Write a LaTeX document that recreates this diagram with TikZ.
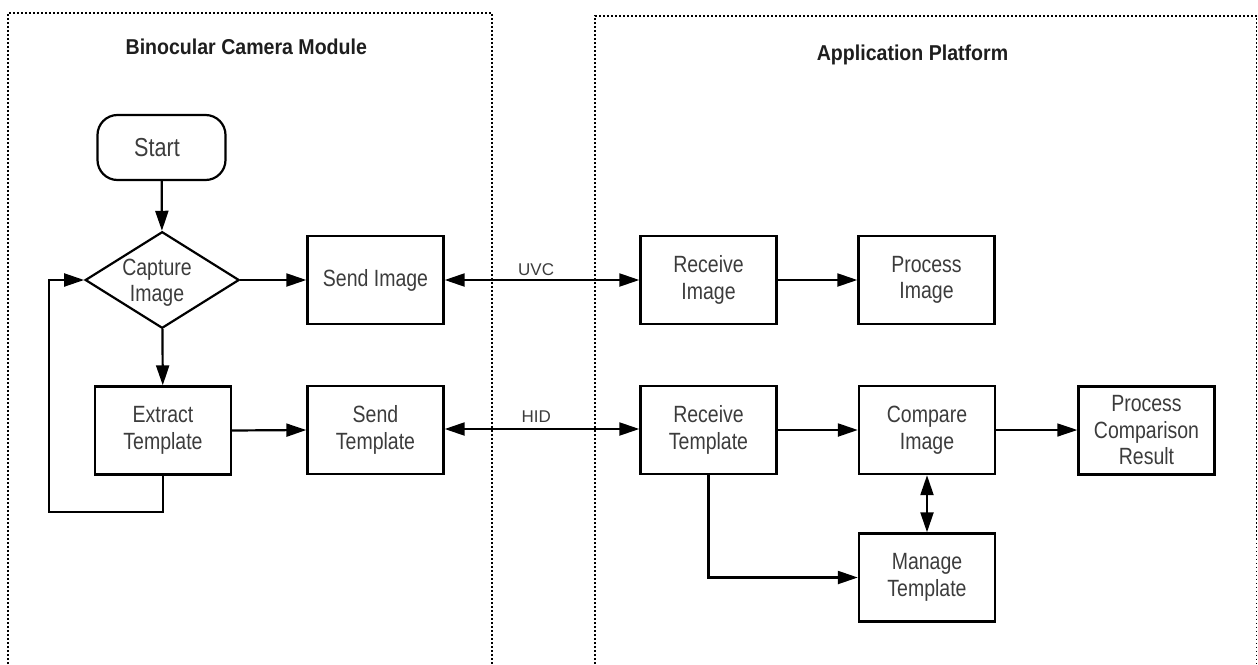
\documentclass[tikz,border=0pt]{standalone}
\usepackage{fontspec}
\setmainfont{Liberation Sans}[FakeStretch=0.83]
\newfontfamily\ttlfont{Liberation Sans}[FakeStretch=0.91]
\newfontfamily\lblfont{Liberation Sans}
\usetikzlibrary{arrows.meta,shapes.geometric}
\definecolor{txt}{RGB}{60,60,60}
\definecolor{ttl}{RGB}{30,30,30}
\begin{document}
\begin{tikzpicture}[x=1pt,y=-1pt,
  box/.style={draw=black,line width=2.4pt,minimum width=136pt,minimum height=88pt,inner sep=0pt,align=center,font=\fontsize{23.5}{26.5}\selectfont,text=txt},
  startbox/.style={draw=black,line width=2.2pt,rounded corners=20pt,minimum width=128pt,minimum height=65pt,inner sep=0pt,font=\fontsize{26}{28}\selectfont,text=txt},
  dia/.style={draw=black,line width=2.2pt,diamond,minimum width=154pt,minimum height=96.6pt,inner sep=0pt},
  plain/.style={inner sep=0pt,align=center,font=\fontsize{23.5}{26}\selectfont,text=txt},
  title/.style={inner sep=0pt,anchor=base,font=\ttlfont\fontsize{21.5}{26}\selectfont\bfseries,text=ttl},
  lbl/.style={inner sep=0pt,font=\lblfont\fontsize{17}{20}\selectfont,text=txt},
  frame/.style={line width=1.6pt,dash pattern=on 1.6pt off 2.4pt},
  conn/.style={line width=2.2pt,-{Triangle[length=20pt,width=13pt]}},
  dconn/.style={line width=2.2pt,{Triangle[length=20pt,width=13pt]}-{Triangle[length=20pt,width=13pt]}}
]
\useasboundingbox (0,0) rectangle (1258,664);
% frames
\coordinate (lf1) at (8,664);
\coordinate (lf2) at (8,13);
\coordinate (lf3) at (492,13);
\coordinate (lf4) at (492,664);
\draw[frame] (lf1) -- (lf2) -- (lf3) -- (lf4);
\coordinate (rf1) at (595,664);
\coordinate (rf2) at (595,16);
\coordinate (rf3) at (1256.5,16);
\coordinate (rf4) at (1256.5,664);
\draw[frame] (rf1) -- (rf2) -- (rf3) -- (rf4);
\node[title] (t1) at (246.3,54.3) {Binocular Camera Module};
\node[title] (t2) at (912.5,60.7) {Application Platform};
% left nodes
\node[startbox] (start) at (161.5,147.5) {Start\hspace*{9pt}};
\node[dia] (cap) at (162.2,280) {};
\node[plain] (captxt) at (157,283) {Capture\\Image};
\node[box] (sendimg) at (375.5,280) {Send Image};
\node[box] (extract) at (163,430.5) {Extract\\Template};
\node[box] (sendtpl) at (375.5,430) {Send\\Template};
% right nodes
\node[box] (recimg) at (708.5,280) {Receive\\Image};
\node[box] (procimg) at (926.5,280) {Process\\Image};
\node[box] (rectpl) at (708.5,430) {Receive\\Template};
\node[box] (cmp) at (927,430) {Compare\\Image};
\node[box] (pcr) at (1146.5,430.5) {Process\\Comparison\\Result};
\node[box] (mgr) at (927,577.5) {Manage\\Template};
% connectors
\draw[conn] (start) -- (cap);
\draw[conn] (cap) -- (extract);
\draw[conn] (cap.east) -- (sendimg.west);
\draw[conn] (extract.east) -- (sendtpl.west);
\coordinate (lp1) at (163,512);
\coordinate (lp2) at (49,512);
\coordinate (lp3) at (49,280);
\draw[conn] (extract.south) -- (lp1) -- (lp2) -- (lp3) -- (cap.west);
\draw[dconn] (sendimg.east) -- node[lbl,above=3pt,pos=0.47] (uvc) {UVC} (recimg.west);
\draw[dconn] (sendtpl.east |- 0,429) -- node[lbl,above=5pt,pos=0.47] (hid) {HID} (rectpl.west |- 0,429);
\draw[conn] (recimg.east) -- (procimg.west);
\draw[conn] (rectpl.east) -- (cmp.west);
\draw[conn,line width=1.7pt] (cmp.east) -- (pcr.west |- cmp.east);
\draw[dconn] (cmp.south) -- (mgr.north);
\draw[conn] (rectpl.south) |- (mgr.west);
\end{tikzpicture}
\end{document}
